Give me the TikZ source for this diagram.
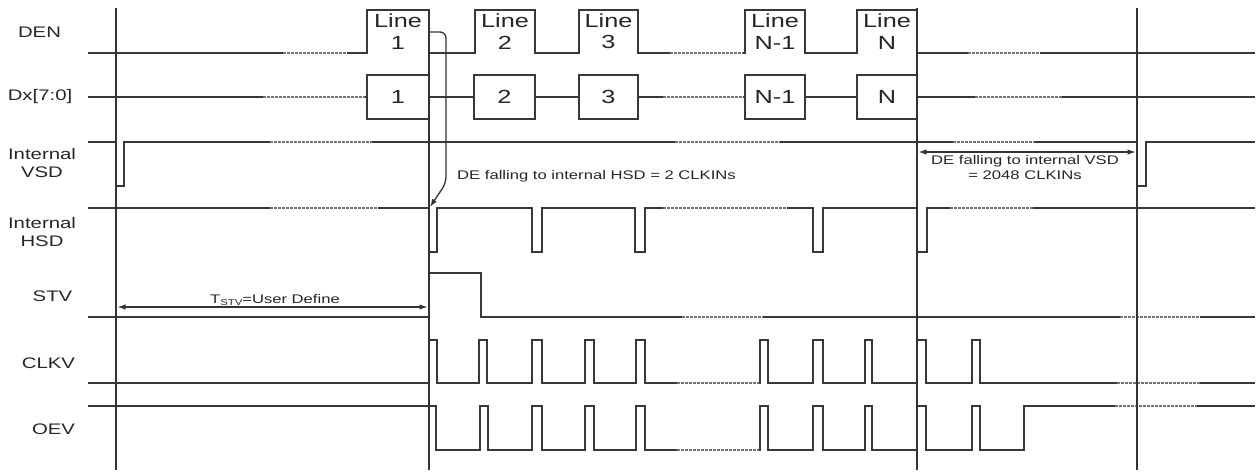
\documentclass[tikz,border=0pt]{standalone}
\usepackage{fontspec}
\setmainfont[FakeStretch=1.33]{Liberation Sans}
\usetikzlibrary{arrows.meta}
\begin{document}
\begin{tikzpicture}[x=1pt,y=-1pt,
  wave/.style={draw=black!78,line width=1.7pt,line join=miter},
  vline/.style={draw=black!80,line width=2.6pt},
  brkw/.style={draw=white,line width=3pt},
  brkd/.style={draw=black!55,line width=1.3pt,dash pattern=on 2.5pt off 1.5pt},
  lab/.style={font=\fontsize{15.3}{17.5}\selectfont,align=center,inner sep=0pt,text=black!85},
  big/.style={font=\fontsize{19}{21.3}\selectfont,align=center,inner sep=0pt,text=black!85},
  note/.style={font=\fontsize{12.5}{15}\selectfont,align=center,inner sep=0pt,text=black!85},
  dbox/.style={big,draw=black!78,line width=1.7pt,minimum height=44pt},
  arr/.style={draw=black!80,line width=1.3pt,-{Latex[length=8pt,width=5.5pt]}},
  dim/.style={draw=black!80,line width=1.1pt,{Latex[length=8pt,width=5.5pt]}-{Latex[length=8pt,width=5.5pt]}}
]
\useasboundingbox (0,0) rectangle (1256,472);
\fill[white] (0,0) rectangle (1256,472);

% ---------- signal labels ----------
\node[lab] (lden) at (39.5,32) {DEN};
\node[lab] (ldx) at (40,97) {Dx[7:0]};
\node[lab] (lvsd) at (42,163) {Internal\\VSD};
\node[lab] (lhsd) at (42,232) {Internal\\HSD};
\node[lab] (lstv) at (52.5,296) {STV};
\node[lab] (lclkv) at (48.5,363) {CLKV};
\node[lab] (loev) at (53.5,429) {OEV};

% ---------- DEN ----------
\draw[wave] (88,53) -- (367,53) -- (367,10) -- (429,10) -- (429,53)
  -- (475,53) -- (475,10) -- (535,10) -- (535,53)
  -- (579,53) -- (579,10) -- (638,10) -- (638,53)
  -- (745,53) -- (745,10) -- (805,10) -- (805,53)
  -- (857,53) -- (857,10) -- (917,10) -- (917,53) -- (1255,53);
\foreach \a/\b in {283/347,670/743,968/1040}{
  \draw[brkw] (\a,53) -- (\b,53); \draw[brkd] (\a,53) -- (\b,53);}
\node[big] (l1) at (398,31.5) {Line\\1};
\node[big] (l2) at (505,31.5) {Line\\2};
\node[big] (l3) at (608.5,31.5) {Line\\3};
\node[big] (ln1) at (775,31.5) {Line\\N-1};
\node[big] (ln) at (887,31.5) {Line\\N};

% ---------- Dx[7:0] ----------
\node[dbox,minimum width=62pt] (d1) at (398,97) {1};
\node[dbox,minimum width=61pt] (d2) at (504.5,97) {2};
\node[dbox,minimum width=59pt] (d3) at (608.5,97) {3};
\node[dbox,minimum width=60pt] (dn1) at (775,97) {N-1};
\node[dbox,minimum width=60pt] (dn) at (887,97) {N};
\coordinate (dxs) at (88,97);
\coordinate (dxe) at (1255,97);
\draw[wave] (dxs) -- (d1.west);
\draw[wave] (d1.east) -- (d2.west);
\draw[wave] (d2.east) -- (d3.west);
\draw[wave] (d3.east) -- (dn1.west);
\draw[wave] (dn1.east) -- (dn.west);
\draw[wave] (dn.east) -- (dxe);
\foreach \a/\b in {263/365,663/743,975/1062}{
  \draw[brkw] (\a,97) -- (\b,97); \draw[brkd] (\a,97) -- (\b,97);}

% ---------- Internal VSD ----------
\draw[wave] (88,142) -- (116,142) -- (116,186) -- (124,186) -- (124,142)
  -- (1137,142) -- (1137,186) -- (1146,186) -- (1146,142) -- (1255,142);
\foreach \a/\b in {270/372,675/780,953/1035}{
  \draw[brkw] (\a,142) -- (\b,142); \draw[brkd] (\a,142) -- (\b,142);}

% ---------- Internal HSD ----------
\draw[wave] (88,208)
  \foreach \a/\b in {429/437,532/542,635/645,813/823,917/927}{
    -- (\a,208) -- (\a,252) -- (\b,252) -- (\b,208)}
  -- (1255,208);
\foreach \a/\b in {270/378,663/787,950/1033}{
  \draw[brkw] (\a,208) -- (\b,208); \draw[brkd] (\a,208) -- (\b,208);}

% ---------- STV ----------
\draw[wave] (88,317) -- (429,317) -- (429,273) -- (481,273) -- (481,317) -- (1255,317);
\foreach \a/\b in {682/763,1120/1200}{
  \draw[brkw] (\a,317) -- (\b,317); \draw[brkd] (\a,317) -- (\b,317);}

% ---------- CLKV ----------
\draw[wave] (88,383)
  \foreach \a/\b in {429/437,479/487,532/542,585/594,636/645,760/768,813/823,865/872,917/926,972/980}{
    -- (\a,383) -- (\a,340) -- (\b,340) -- (\b,383)}
  -- (1255,383);
\foreach \a/\b in {677/759,1117/1200}{
  \draw[brkw] (\a,383) -- (\b,383); \draw[brkd] (\a,383) -- (\b,383);}

% ---------- OEV ----------
\draw[wave] (88,406) -- (436,406) -- (436,450)
  \foreach \a/\b in {480/488,532/542,585/594,636/645,760/768,813/823,865/872,917/926,972/980}{
    -- (\a,450) -- (\a,406) -- (\b,406) -- (\b,450)}
  -- (1024,450) -- (1024,406) -- (1255,406);
\draw[brkw] (677,450) -- (759,450); \draw[brkd] (677,450) -- (759,450);
\draw[brkw] (1115,406) -- (1197,406); \draw[brkd] (1115,406) -- (1197,406);

% ---------- vertical reference lines ----------
\draw[vline] (116,8) -- (116,470);
\draw[vline] (429,10) -- (429,470);
\draw[vline] (917,8) -- (917,470);
\draw[vline] (1137,8) -- (1137,470);

% ---------- annotations ----------
\coordinate (densrc) at (429,32);
\coordinate (hsdtip) at (430,207);
\draw[arr] (densrc) [rounded corners=6pt] -| (446,183) [sharp corners] -- (hsdtip);
\node[note,anchor=west] (hsdnote) at (457,176) {DE falling to internal HSD = 2 CLKINs};

\coordinate (ts1) at (117.5,307);
\coordinate (ts2) at (427.5,307);
\draw[dim] (ts1) -- (ts2);
\node[note] (tstv) at (275,300) {T\raisebox{-2pt}{\fontsize{8.5}{9}\selectfont STV}=User Define};

\coordinate (vs1) at (918.5,152);
\coordinate (vs2) at (1135.5,152);
\draw[dim] (vs1) -- (vs2);
\node[note] (vsdnote) at (1025,168) {DE falling to internal VSD\\= 2048 CLKINs};
\end{tikzpicture}
\end{document}
